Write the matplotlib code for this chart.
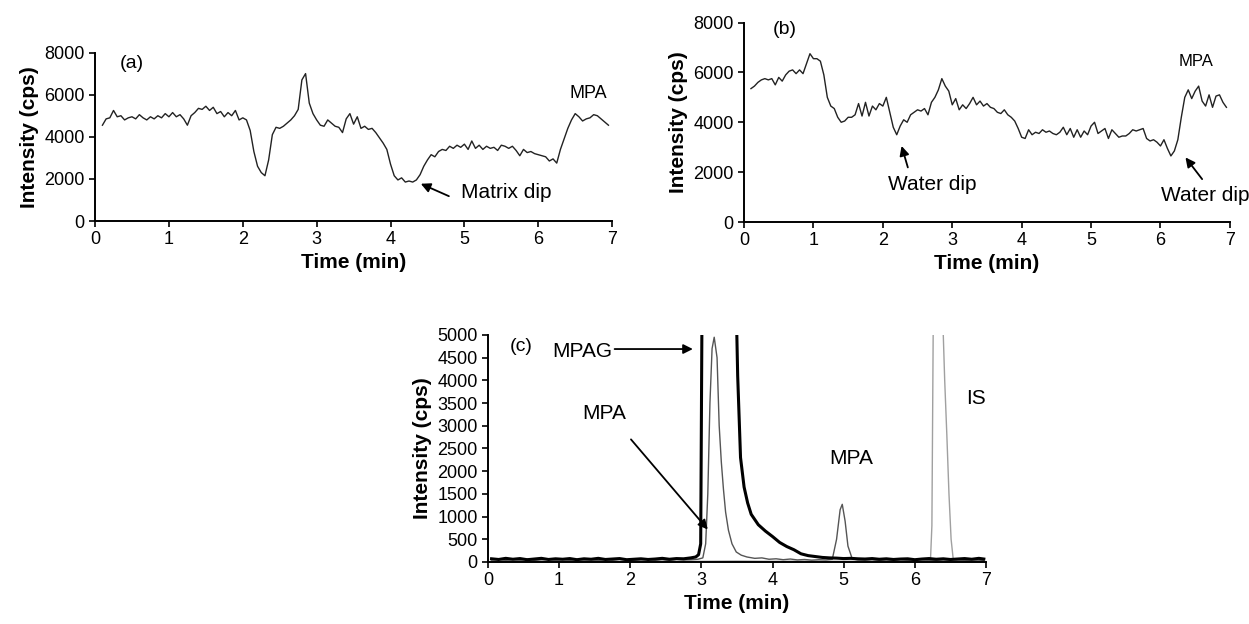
import numpy as np
import matplotlib
matplotlib.use("Agg")
import matplotlib.pyplot as plt

plt.rcParams['font.family'] = ['Liberation Sans', 'DejaVu Sans']

# panel (a) - matrix infusion, values every 0.05 min from 0.10 to 6.95
a_vals = [4550, 4850, 4900, 5250, 4950, 5000, 4800, 4900, 4950, 4850,
          5050, 4900, 4800, 4950, 4850, 5000, 4900, 5100, 4950, 5150,
          4950, 5050, 4850, 4550, 5000, 5150, 5350, 5300, 5450, 5250,
          5400, 5100, 5200, 4950, 5150, 5000, 5250, 4800, 4900, 4800,
          4300, 3300, 2600, 2300, 2150, 2900, 4100, 4450, 4400, 4500,
          4650, 4800, 5000, 5300, 6700, 7000, 5600, 5100, 4800, 4550,
          4500, 4800, 4650, 4500, 4450, 4200, 4850, 5100, 4600, 4950,
          4400, 4500, 4350, 4400, 4200, 3950, 3700, 3400, 2700, 2150,
          1950, 2050, 1850, 1900, 1850, 1950, 2200, 2600, 2900, 3150,
          3050, 3300, 3400, 3350, 3550, 3450, 3600, 3500, 3650, 3400,
          3800, 3450, 3600, 3400, 3550, 3450, 3500, 3350, 3600, 3550,
          3450, 3550, 3350, 3100, 3400, 3250, 3300, 3200, 3150, 3100,
          3050, 2850, 2950, 2750, 3400, 3900, 4400, 4800, 5100, 4950,
          4750, 4850, 4900, 5050, 5000, 4850, 4700, 4550]

# panel (b) - water infusion, same time grid
b_vals = [5350, 5450, 5600, 5700, 5750, 5700, 5750, 5500, 5800, 5650,
          5900, 6050, 6100, 5950, 6100, 5950, 6350, 6750, 6550, 6550,
          6450, 5900, 5000, 4650, 4550, 4200, 4000, 4050, 4200, 4200,
          4300, 4750, 4250, 4800, 4250, 4650, 4500, 4750, 4650, 5000,
          4400, 3800, 3500, 3850, 4100, 4000, 4300, 4400, 4500, 4450,
          4550, 4300, 4800, 5000, 5300, 5750, 5450, 5250, 4700, 4950,
          4500, 4700, 4550, 4750, 5000, 4700, 4850, 4650, 4750, 4600,
          4550, 4400, 4350, 4500, 4300, 4200, 4050, 3750, 3400, 3350,
          3700, 3500, 3600, 3550, 3700, 3600, 3650, 3550, 3500, 3600,
          3800, 3500, 3750, 3400, 3700, 3400, 3650, 3500, 3850, 4000,
          3550, 3650, 3750, 3350, 3700, 3550, 3400, 3450, 3450, 3550,
          3700, 3650, 3700, 3750, 3350, 3250, 3300, 3200, 3050, 3300,
          2950, 2650, 2850, 3300, 4200, 5000, 5300, 4950, 5250, 5450,
          4850, 4650, 5100, 4600, 5050, 5100, 4800, 4600]

t_ab = np.linspace(0.10, 6.95, len(a_vals))

# panel (c) - chromatogram traces
t_mpag = [0.05, 0.15, 0.25, 0.35, 0.45, 0.55, 0.65, 0.75, 0.85, 0.95,
          1.05, 1.15, 1.25, 1.35, 1.45, 1.55, 1.65, 1.75, 1.85, 1.95,
          2.05, 2.15, 2.25, 2.35, 2.45, 2.55, 2.65, 2.75, 2.85,
          2.92, 2.96, 2.99, 3.01, 3.03, 3.25, 3.47, 3.49, 3.51, 3.55,
          3.60, 3.65, 3.70,
          3.80, 3.90, 4.00, 4.10, 4.20, 4.30, 4.40, 4.50, 4.60, 4.70,
          4.80, 4.90, 5.00, 5.10, 5.20, 5.30, 5.40, 5.50, 5.60, 5.70,
          5.80, 5.90, 6.00, 6.10, 6.20, 6.30, 6.40, 6.50, 6.60, 6.70,
          6.80, 6.90, 6.97]
v_mpag = [70, 55, 80, 60, 75, 50, 65, 80, 55, 70,
          60, 75, 50, 70, 60, 80, 55, 65, 75, 50,
          60, 70, 55, 65, 80, 60, 75, 70, 90,
          110, 160, 400, 6000, 40000, 90000, 40000, 5600, 4100, 2300,
          1650, 1300, 1050,
          820, 680, 560, 430, 340, 270, 180, 140, 120, 100,
          90, 85, 75, 80, 70, 65, 75, 60, 70, 55,
          65, 70, 50, 65, 75, 60, 70, 55, 65, 75,
          60, 80, 65]

t_mpa = [0.05, 0.15, 0.25, 0.35, 0.45, 0.55, 0.65, 0.75, 0.85, 0.95,
         1.05, 1.15, 1.25, 1.35, 1.45, 1.55, 1.65, 1.75, 1.85, 1.95,
         2.05, 2.15, 2.25, 2.35, 2.45, 2.55, 2.65, 2.75, 2.85, 2.95,
         3.02, 3.06, 3.09, 3.12, 3.15, 3.18, 3.22, 3.25, 3.28, 3.31,
         3.34, 3.38, 3.43, 3.49, 3.56, 3.64, 3.75, 3.85, 3.95, 4.05,
         4.15, 4.25, 4.35, 4.45, 4.55, 4.65, 4.75, 4.84, 4.90, 4.95,
         4.98, 5.02, 5.06, 5.12, 5.20, 5.30, 5.40, 5.50, 5.60, 5.70,
         5.80, 5.90, 6.00, 6.10, 6.20, 6.30, 6.40, 6.50, 6.60, 6.70,
         6.80, 6.90, 6.97]
v_mpa = [45, 60, 35, 55, 40, 65, 35, 50, 60, 40,
         55, 35, 60, 45, 50, 35, 55, 40, 60, 45,
         35, 50, 60, 40, 55, 35, 60, 45, 50, 60,
         90, 400, 1500, 3500, 4700, 4950, 4500, 3000, 2200, 1600,
         1100, 700, 400, 220, 150, 110, 80, 90, 60, 70,
         50, 65, 45, 55, 40, 50, 45, 60, 500, 1150,
         1270, 900, 350, 70, 45, 40, 55, 35, 50, 40,
         55, 35, 45, 50, 40, 35, 45, 40, 50, 35,
         45, 40, 35]

t_is = [0.05, 0.50, 1.00, 1.50, 2.00, 2.50, 3.00, 3.50, 4.00, 4.50,
        5.00, 5.50, 6.00, 6.15, 6.22, 6.24, 6.26, 6.28, 6.33, 6.37,
        6.40, 6.42, 6.45, 6.48, 6.51, 6.54, 6.60, 6.80, 6.97]
v_is = [15, 20, 15, 20, 15, 20, 15, 20, 15, 20,
        15, 20, 15, 20, 40, 800, 5500, 14000, 20000, 9000,
        5000, 4000, 2800, 1500, 500, 60, 25, 15, 20]


def style_axes(ax):
    for s in ['top', 'right']:
        ax.spines[s].set_visible(False)
    for s in ['left', 'bottom']:
        ax.spines[s].set_linewidth(1.4)
    ax.tick_params(direction='out', length=4, width=1.2, labelsize=13)
    ax.set_xlim(0, 7)
    ax.set_xticks(range(8))
    ax.set_xlabel('Time (min)', fontsize=15, fontweight='bold', labelpad=3)
    ax.set_ylabel('Intensity (cps)', fontsize=15, fontweight='bold', labelpad=4)


arrow = dict(arrowstyle='-|>', color='k', lw=1.3, mutation_scale=14,
             shrinkA=0, shrinkB=0)

fig = plt.figure(figsize=(12.49, 6.24), dpi=100)

# (a)
ax1 = fig.add_axes([0.0761, 0.6458, 0.414, 0.270])
ax1.plot(t_ab, a_vals, color='#222222', lw=1.0)
style_axes(ax1)
ax1.set_ylim(0, 8000)
ax1.set_yticks([0, 2000, 4000, 6000, 8000])
ax1.text(0.5, 7500, '(a)', fontsize=14, ha='center', va='center')
ax1.text(6.68, 6050, 'MPA', fontsize=13, ha='center', va='center')
ax1.annotate('', xy=(4.41, 1770), xytext=(4.79, 1180), arrowprops=arrow)
ax1.text(4.95, 1370, 'Matrix dip', fontsize=15, ha='left', va='center')

# (b)
ax2 = fig.add_axes([0.5957, 0.6442, 0.389, 0.3197])
ax2.plot(t_ab, b_vals, color='#222222', lw=1.0)
style_axes(ax2)
ax2.set_ylim(0, 8000)
ax2.set_yticks([0, 2000, 4000, 6000, 8000])
ax2.text(0.59, 7730, '(b)', fontsize=14, ha='center', va='center')
ax2.text(6.51, 6430, 'MPA', fontsize=12, ha='center', va='center')
ax2.annotate('', xy=(2.27, 3050), xytext=(2.36, 2190), arrowprops=arrow)
ax2.text(2.71, 1500, 'Water dip', fontsize=15, ha='center', va='center')
ax2.annotate('', xy=(6.36, 2590), xytext=(6.6, 1720), arrowprops=arrow)
ax2.text(6.65, 1060, 'Water dip', fontsize=15, ha='center', va='center')

# (c)
ax3 = fig.add_axes([0.3907, 0.0994, 0.3987, 0.3638])
ax3.plot(t_is, v_is, color='#a0a0a0', lw=1.0)
ax3.plot(t_mpa, v_mpa, color='#555555', lw=1.0)
ax3.plot(t_mpag, v_mpag, color='black', lw=2.2)
style_axes(ax3)
ax3.set_ylim(0, 5000)
ax3.set_yticks(range(0, 5001, 500))
ax3.text(0.47, 4740, '(c)', fontsize=14, ha='center', va='center')
ax3.annotate('', xy=(2.88, 4690), xytext=(1.78, 4690), arrowprops=arrow)
ax3.text(1.75, 4630, 'MPAG', fontsize=15, ha='right', va='center')
ax3.text(1.64, 3280, 'MPA', fontsize=15, ha='center', va='center')
ax3.annotate('', xy=(3.09, 715), xytext=(2.01, 2700), arrowprops=arrow)
ax3.text(5.1, 2280, 'MPA', fontsize=15, ha='center', va='center')
ax3.text(6.86, 3610, 'IS', fontsize=15, ha='center', va='center')

fig.savefig('out.png', dpi=100)
